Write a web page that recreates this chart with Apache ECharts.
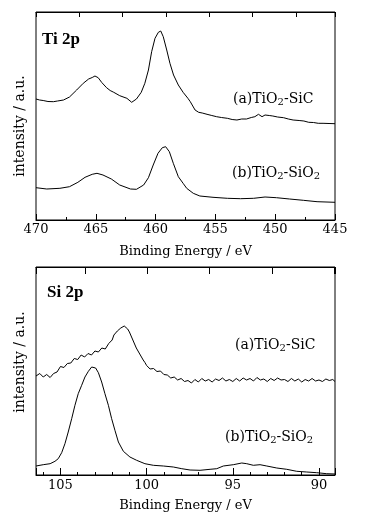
<!DOCTYPE html>
<html>
<head>
<meta charset="utf-8">
<script src="https://cdn.jsdelivr.net/npm/echarts@6/dist/echarts.min.js"></script>
<style>
html,body{margin:0;padding:0;background:#fff;}
#c{width:366px;height:524px;}
</style>
</head>
<body>
<div id="c"></div>
<script>
// ---------- Ti 2p panel ----------
const tiTicks = [470, 465, 460, 455, 450, 445];
const tiA_E = [470.0, 469.7, 469.4, 469.0, 468.55, 468.2, 467.7, 467.2, 466.6, 466.05, 465.6, 465.3, 465.07, 464.8, 464.5, 464.1, 463.8, 463.5, 463.0, 462.4, 462.0, 461.6, 461.2, 460.9, 460.6, 460.33, 460.05, 459.77, 459.57, 459.36, 459.07, 458.8, 458.5, 458.1, 457.7, 457.3, 457.1, 456.7, 456.4, 456.1, 455.7, 455.3, 454.9, 454.5, 454.0, 453.6, 453.2, 452.8, 452.4, 452.0, 451.7, 451.4, 451.1, 450.85, 450.5, 450.2, 449.8, 449.3, 448.9, 448.5, 448.0, 447.6, 447.2, 446.8, 446.4, 446.0, 445.5, 445.0];
const tiA_I = [121, 120, 119.5, 118.5, 118.3, 119, 120, 123, 130, 136.7, 141, 142.5, 144, 142.3, 137.5, 132.3, 129.5, 127.7, 124.3, 121.7, 117.7, 121, 127.7, 136.7, 150, 168.3, 181.7, 187.7, 189, 183.3, 170, 156.7, 145, 135, 127.7, 121.7, 118.3, 110, 107.7, 107, 105.7, 104.5, 103.3, 102.5, 101.7, 100.5, 100, 101, 101, 102.5, 103.3, 105.7, 103.3, 105, 104.5, 104, 103, 102.3, 101, 100, 99.5, 99, 97.7, 97.5, 96.7, 96.7, 96.5, 96.3];
const tiB_E = [470.0, 469.1, 468.0, 467.2, 466.5, 465.9, 465.3, 464.9, 464.4, 463.7, 463.0, 462.1, 461.6, 461.0, 460.6, 460.2, 459.8, 459.44, 459.16, 458.85, 458.52, 458.1, 457.7, 457.4, 456.85, 456.3, 455.2, 454.0, 452.9, 451.8, 450.85, 449.9, 448.8, 447.65, 446.5, 445.0];
const tiB_I = [32.3, 31, 31.7, 33.3, 37.7, 42.7, 45.7, 46.7, 45, 41, 35, 31, 30.7, 35, 42.3, 55, 66.7, 72.3, 73.3, 68.3, 56.7, 43.3, 36.7, 31.7, 26.7, 24, 22.7, 21.7, 21.3, 21.7, 23, 22.3, 21, 19.7, 18.3, 17.7];

// ---------- Si 2p panel ----------
const siTicks = [105, 100, 95, 90];
const siA_E = [106.42, 106.2, 106.0, 105.8, 105.6, 105.4, 105.2, 105.0, 104.8, 104.6, 104.4, 104.2, 104.0, 103.8, 103.6, 103.4, 103.2, 103.0, 102.8, 102.6, 102.4, 102.2, 102.0, 101.9, 101.8, 101.7, 101.6, 101.5, 101.4, 101.3, 101.2, 101.1, 101.0, 100.8, 100.7, 100.6, 100.5, 100.4, 100.3, 100.2, 100.1, 100.0, 99.8, 99.6, 99.4, 99.2, 99.0, 98.8, 98.6, 98.4, 98.2, 98.0, 97.8, 97.6, 97.4, 97.2, 97.0, 96.8, 96.6, 96.4, 96.2, 96.0, 95.8, 95.6, 95.4, 95.2, 95.0, 94.8, 94.6, 94.4, 94.2, 94.0, 93.8, 93.6, 93.4, 93.2, 93.0, 92.8, 92.6, 92.4, 92.2, 92.0, 91.8, 91.6, 91.4, 91.2, 91.0, 90.8, 90.6, 90.4, 90.2, 90.0, 89.8, 89.6, 89.4, 89.2, 89.07];
const siA_I = [99, 101.5, 98, 100.5, 97.5, 101.5, 103, 108.5, 107.5, 111.5, 112, 116.5, 115.5, 120, 118, 121.5, 120, 124, 123, 127, 126, 131.5, 135, 140, 138.5, 144, 143, 147, 146.5, 149, 147.5, 146, 143, 135, 131, 127, 125.5, 121, 119, 115, 112.5, 109.5, 106, 106.5, 103.5, 104, 100.5, 100, 97, 98, 95, 96.5, 93.5, 94.5, 92, 95.5, 93, 96.5, 94, 95.5, 93, 96, 94.5, 97, 94, 95.5, 93.5, 96.5, 94, 97, 95, 96.5, 94, 97.5, 95, 96, 93.5, 96.5, 94.5, 97, 95, 95.5, 93.5, 96.5, 94, 96, 93, 95.5, 94, 96.5, 94, 95, 93.5, 96, 94.5, 95.5, 93.5];
const siB_E = [106.42, 106.0, 105.6, 105.32, 105.13, 104.93, 104.74, 104.55, 104.35, 104.16, 103.97, 103.77, 103.58, 103.38, 103.19, 103.09, 102.96, 102.8, 102.61, 102.42, 102.22, 102.03, 101.84, 101.64, 101.35, 100.97, 100.58, 100.1, 99.61, 99.03, 98.45, 97.96, 97.48, 96.9, 96.32, 95.93, 95.55, 94.97, 94.48, 94.19, 93.81, 93.42, 93.03, 92.45, 91.87, 91.29, 90.71, 90.13, 89.55, 89.07];
const siB_I = [9, 10.3, 11.3, 13.7, 16.3, 22.3, 31.3, 43, 56.3, 69.7, 81.3, 89.7, 98, 103.7, 108, 109, 107, 102.3, 93, 81.3, 69.7, 56.3, 44.7, 33, 23.7, 18, 14.7, 11.3, 9.7, 9, 8, 6.3, 5, 4.7, 5.7, 6.3, 9, 10.3, 12, 11.3, 9.7, 10.3, 9, 7, 5.7, 3.7, 3, 2.3, 1.3, 1];

const labels = {
  ti: 'Ti 2p', si: 'Si 2p',
  a: '(a)TiO{s|2}-SiC', b: '(b)TiO{s|2}-SiO{s|2}',
  yName: 'intensity / a.u.', xName: 'Binding Energy / eV'
};

function pairs(E, I) { return E.map((e, i) => [e, I[i]]); }

const SERIF = '"DejaVu Serif", serif';
const chart = echarts.init(document.getElementById('c'), null, {renderer: 'canvas'});

const lineStyle = {color: '#000', width: 1};
const gridCommon = {show: true, borderColor: '#000', borderWidth: 1, backgroundColor: 'transparent'};

function curveLabel(text, x, y) {
  return {
    type: 'text', x: x, y: y,
    style: {
      text: text, fill: '#000', font: '14px ' + SERIF,
      textAlign: 'left', textVerticalAlign: 'middle',
      rich: { s: { fontSize: 10, fontFamily: 'DejaVu Serif', fill: '#000', padding: [7, 0, 0, 0] } }
    }
  };
}

const option = {
  animation: false,
  backgroundColor: '#fff',
  grid: [
    Object.assign({left: 36, top: 12, width: 299, height: 208}, gridCommon),
    Object.assign({left: 36, top: 267, width: 299, height: 208}, gridCommon)
  ],
  xAxis: [
    { // Ti data axis
      type: 'value', gridIndex: 0, position: 'bottom', inverse: true,
      min: 445, max: 470, interval: 5,
      axisLine: {show: true, lineStyle: {color: '#000', width: 1}},
      axisTick: {show: true, inside: true, length: 6, lineStyle: {color: '#000', width: 1}},
      minorTick: {show: true, splitNumber: 2, length: 3, lineStyle: {color: '#000', width: 1}},
      axisLabel: {show: true, color: '#000', fontFamily: SERIF, fontSize: 13, margin: 3,
        formatter: v => (tiTicks.indexOf(v) >= 0 ? String(v) : '')},
      splitLine: {show: false},
      name: labels.xName, nameLocation: 'middle', nameGap: 25,
      nameTextStyle: {color: '#000', fontFamily: SERIF, fontSize: 13}
    },
    { // Ti top decorative ticks
      type: 'value', gridIndex: 0, position: 'top',
      min: 0, max: 6.905, interval: 1,
      axisLine: {show: true, lineStyle: {color: '#000', width: 1}},
      axisTick: {show: true, inside: true, length: 5, lineStyle: {color: '#000', width: 1}},
      axisLabel: {show: false}, splitLine: {show: false}
    },
    { // Si data axis
      type: 'value', gridIndex: 1, position: 'bottom', inverse: true,
      min: 89.07, max: 106.42, minInterval: 5, maxInterval: 5, splitNumber: 4,
      axisLine: {show: true, lineStyle: {color: '#000', width: 1}},
      axisTick: {show: true, inside: true, length: 7, lineStyle: {color: '#000', width: 1}},
      minorTick: {show: true, splitNumber: 5, length: 3, lineStyle: {color: '#000', width: 1}},
      axisLabel: {show: true, color: '#000', fontFamily: SERIF, fontSize: 13, margin: 4,
        showMinLabel: false, showMaxLabel: false,
        formatter: v => (siTicks.indexOf(v) >= 0 ? String(v) : '')},
      splitLine: {show: false},
      name: labels.xName, nameLocation: 'middle', nameGap: 24,
      nameTextStyle: {color: '#000', fontFamily: SERIF, fontSize: 13}
    },
    { // Si top decorative ticks
      type: 'value', gridIndex: 1, position: 'top',
      min: -0.787, max: 4.012, minInterval: 1, maxInterval: 1, splitNumber: 4,
      axisLine: {show: true, lineStyle: {color: '#000', width: 1}},
      axisTick: {show: true, inside: true, length: 7, lineStyle: {color: '#000', width: 1}},
      axisLabel: {show: false}, splitLine: {show: false}
    }
  ],
  yAxis: [
    {type: 'value', gridIndex: 0, min: 0, max: 208, axisLine: {show: false}, axisTick: {show: false}, axisLabel: {show: false}, splitLine: {show: false}},
    {type: 'value', gridIndex: 1, min: 0, max: 208, axisLine: {show: false}, axisTick: {show: false}, axisLabel: {show: false}, splitLine: {show: false}}
  ],
  series: [
    {type: 'line', xAxisIndex: 0, yAxisIndex: 0, data: pairs(tiA_E, tiA_I), showSymbol: false, lineStyle: lineStyle, silent: true},
    {type: 'line', xAxisIndex: 0, yAxisIndex: 0, data: pairs(tiB_E, tiB_I), showSymbol: false, lineStyle: lineStyle, silent: true},
    {type: 'line', xAxisIndex: 2, yAxisIndex: 1, data: pairs(siA_E, siA_I), showSymbol: false, lineStyle: lineStyle, silent: true},
    {type: 'line', xAxisIndex: 2, yAxisIndex: 1, data: pairs(siB_E, siB_I), showSymbol: false, lineStyle: lineStyle, silent: true}
  ],
  graphic: [
    {type: 'text', x: 42, y: 40, style: {text: labels.ti, fill: '#000', font: 'bold 17px "Liberation Serif", serif', textAlign: 'left', textVerticalAlign: 'middle'}},
    {type: 'text', x: 47, y: 293, style: {text: labels.si, fill: '#000', font: 'bold 17px "Liberation Serif", serif', textAlign: 'left', textVerticalAlign: 'middle'}},
    curveLabel(labels.a, 233, 99),
    curveLabel(labels.b, 232, 173),
    curveLabel(labels.a, 235, 345),
    curveLabel(labels.b, 225, 437),
    {type: 'text', x: 20, y: 126, rotation: Math.PI / 2, style: {text: labels.yName, fill: '#000', font: '14px ' + SERIF, textAlign: 'center', textVerticalAlign: 'middle'}},
    {type: 'text', x: 20, y: 362, rotation: Math.PI / 2, style: {text: labels.yName, fill: '#000', font: '14px ' + SERIF, textAlign: 'center', textVerticalAlign: 'middle'}}
  ]
};
chart.setOption(option);
</script>
</body>
</html>
